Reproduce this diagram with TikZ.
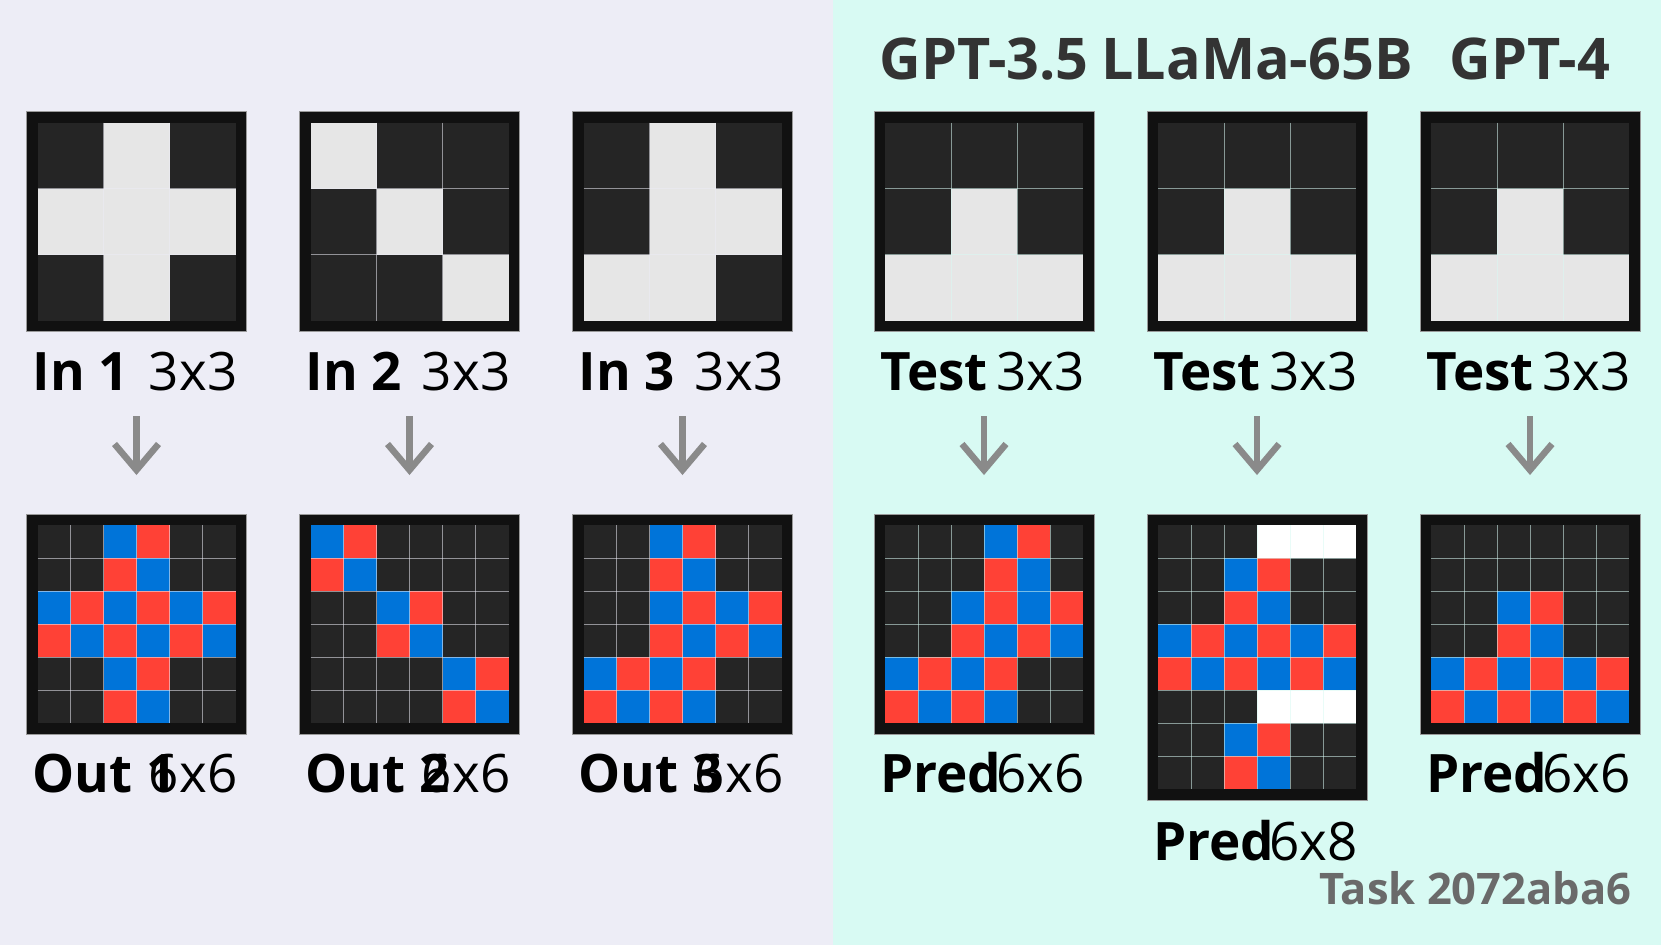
\documentclass[tikz,border=0pt]{standalone}
\usepackage{fontspec}
\setmainfont{Open Sans}
\usetikzlibrary{calc}
\definecolor{bgL}{HTML}{EDEDF6}
\definecolor{bgR}{HTML}{D8FAF3}
\definecolor{ck}{HTML}{252525}
\definecolor{cw}{HTML}{E6E6E6}
\definecolor{cb}{HTML}{0074D9}
\definecolor{cr}{HTML}{FF4136}
\definecolor{ch}{HTML}{FFFFFF}
\definecolor{frm}{HTML}{111111}
\definecolor{frmedge}{HTML}{9A9A9A}
\definecolor{arrc}{HTML}{8A8A8A}
\definecolor{ttl}{HTML}{333333}
\definecolor{tsk}{HTML}{6A6A6A}
\tikzset{
  frame/.style={fill=frm, draw=frmedge, line width=0.6pt, inner sep=0pt, outer sep=0pt, anchor=north west},
  gridl/.style={draw=#1, draw opacity=0.55, line width=1pt},
  lblb/.style={anchor=base west, inner sep=0pt, font=\fontsize{53}{60}\selectfont\bfseries},
  lblr/.style={anchor=base east, inner sep=0pt, font=\fontsize{53}{60}\selectfont},
  ttlstyle/.style={anchor=base, inner sep=0pt, text=ttl, font=\fontsize{57.5}{64}\selectfont\bfseries},
  tskstyle/.style={anchor=base east, inner sep=0pt, text=tsk, font=\fontsize{43.5}{50}\selectfont\bfseries},
  arr/.style={draw=arrc, line width=6.5pt, line join=miter}
}
\newcommand\arcgrid[8]{%
  \node[frame, minimum width=#4*#6*1pt+22pt, minimum height=#5*#6*1pt+22pt] (#1) at (#2,#3) {};
  \foreach \row [count=\jj] in {#8} {
    \foreach \cc [count=\ii] in \row {
      \fill[c\cc] ($(#1.north west)+({11+(\ii-1)*#6},{11+(\jj-1)*#6})$) rectangle ++(#6,#6);
    }
  }
  \pgfmathtruncatemacro\ncm{#4-1}
  \pgfmathtruncatemacro\nrm{#5-1}
  \foreach \ii in {1,...,\ncm} \draw[gridl=#7] ($(#1.north west)+({11+\ii*#6},11)$) -- ++(0,{#5*#6});
  \foreach \jj in {1,...,\nrm} \draw[gridl=#7] ($(#1.north west)+(11,{11+\jj*#6})$) -- ++({#4*#6},0);
}
\newcommand\arcarrow[2]{% #1 name, #2 x
  \coordinate (#1s) at (#2,416);
  \coordinate (#1e) at (#2,470);
  \draw[arr] (#1s) -- (#1e);
  \draw[arr] ($(#1e)+(-22,-26)$) -- (#1e) -- ($(#1e)+(22,-26)$);
}
\begin{document}
\begin{tikzpicture}[x=1pt,y=-1pt]
\useasboundingbox (0,0) rectangle (1661,945);
\fill[bgL] (0,0) rectangle (833,945);
\fill[bgR] (833,0) rectangle (1661,945);

% titles
\node[ttlstyle] (t1) at (984,79.5) {GPT-3.5};
\node[ttlstyle] (t2) at (1257,79.5) {LLaMa-65B};
\node[ttlstyle] (t3) at (1530,79.5) {GPT-4};

% top row grids
\arcgrid{in1}{26.5}{111.5}{3}{3}{66}{bgL}{{k,w,k},{w,w,w},{k,w,k}}
\arcgrid{in2}{299.5}{111.5}{3}{3}{66}{bgL}{{w,k,k},{k,w,k},{k,k,w}}
\arcgrid{in3}{572.5}{111.5}{3}{3}{66}{bgL}{{k,w,k},{k,w,w},{w,w,k}}
\arcgrid{te1}{874}{111.5}{3}{3}{66}{bgR}{{k,k,k},{k,w,k},{w,w,w}}
\arcgrid{te2}{1147}{111.5}{3}{3}{66}{bgR}{{k,k,k},{k,w,k},{w,w,w}}
\arcgrid{te3}{1420}{111.5}{3}{3}{66}{bgR}{{k,k,k},{k,w,k},{w,w,w}}

% top labels
\node[lblb] (in1a) at (32.5,390.5) {In 1};
\node[lblr] (in1b) at (237.5,390.5) {3x3};
\node[lblb] (in2a) at (305.5,390.5) {In 2};
\node[lblr] (in2b) at (510.5,390.5) {3x3};
\node[lblb] (in3a) at (578.5,390.5) {In 3};
\node[lblr] (in3b) at (783.5,390.5) {3x3};
\node[lblb] (te1a) at (880,390.5) {Test};
\node[lblr] (te1b) at (1085,390.5) {3x3};
\node[lblb] (te2a) at (1153,390.5) {Test};
\node[lblr] (te2b) at (1358,390.5) {3x3};
\node[lblb] (te3a) at (1426,390.5) {Test};
\node[lblr] (te3b) at (1631,390.5) {3x3};

% arrows
\arcarrow{a1}{136.5}
\arcarrow{a2}{409.5}
\arcarrow{a3}{682.5}
\arcarrow{a4}{984}
\arcarrow{a5}{1257}
\arcarrow{a6}{1530}

% bottom row grids
\arcgrid{out1}{26.5}{514}{6}{6}{33}{bgL}{{k,k,b,r,k,k},{k,k,r,b,k,k},{b,r,b,r,b,r},{r,b,r,b,r,b},{k,k,b,r,k,k},{k,k,r,b,k,k}}
\arcgrid{out2}{299.5}{514}{6}{6}{33}{bgL}{{b,r,k,k,k,k},{r,b,k,k,k,k},{k,k,b,r,k,k},{k,k,r,b,k,k},{k,k,k,k,b,r},{k,k,k,k,r,b}}
\arcgrid{out3}{572.5}{514}{6}{6}{33}{bgL}{{k,k,b,r,k,k},{k,k,r,b,k,k},{k,k,b,r,b,r},{k,k,r,b,r,b},{b,r,b,r,k,k},{r,b,r,b,k,k}}
\arcgrid{pr1}{874}{514}{6}{6}{33}{bgR}{{k,k,k,b,r,k},{k,k,k,r,b,k},{k,k,b,r,b,r},{k,k,r,b,r,b},{b,r,b,r,k,k},{r,b,r,b,k,k}}
\arcgrid{pr2}{1147}{514}{6}{8}{33}{bgR}{{k,k,k,h,h,h},{k,k,b,r,k,k},{k,k,r,b,k,k},{b,r,b,r,b,r},{r,b,r,b,r,b},{k,k,k,h,h,h},{k,k,b,r,k,k},{k,k,r,b,k,k}}
\arcgrid{pr3}{1420}{514}{6}{6}{33}{bgR}{{k,k,k,k,k,k},{k,k,k,k,k,k},{k,k,b,r,k,k},{k,k,r,b,k,k},{b,r,b,r,b,r},{r,b,r,b,r,b}}

% bottom labels
\node[lblb] (out1a) at (32.5,792.5) {Out 1};
\node[lblr] (out1b) at (237.5,792.5) {6x6};
\node[lblb] (out2a) at (305.5,792.5) {Out 2};
\node[lblr] (out2b) at (510.5,792.5) {6x6};
\node[lblb] (out3a) at (578.5,792.5) {Out 3};
\node[lblr] (out3b) at (783.5,792.5) {6x6};
\node[lblb] (pr1a) at (880,792.5) {Pred};
\node[lblr] (pr1b) at (1085,792.5) {6x6};
\node[lblb] (pr2a) at (1153,860) {Pred};
\node[lblr] (pr2b) at (1358,860) {6x8};
\node[lblb] (pr3a) at (1426,792.5) {Pred};
\node[lblr] (pr3b) at (1631,792.5) {6x6};

% task label
\node[tskstyle] (task) at (1631.5,904.5) {Task 2072aba6};
\end{tikzpicture}
\end{document}
